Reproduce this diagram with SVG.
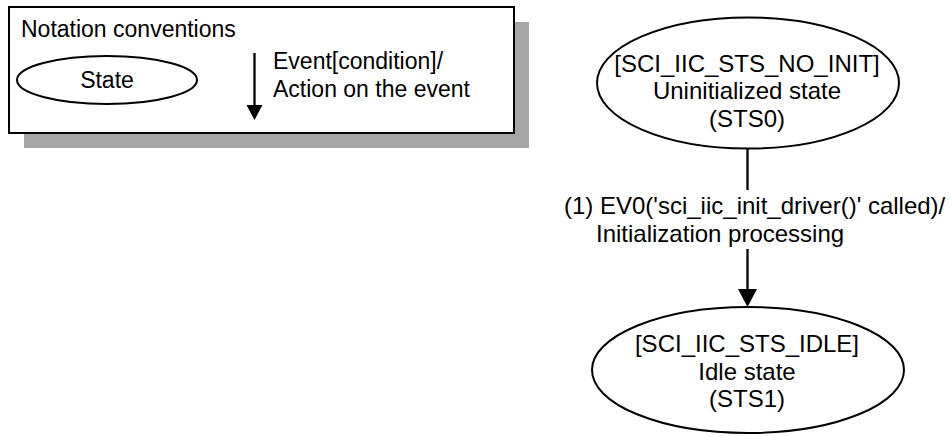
<svg xmlns="http://www.w3.org/2000/svg" width="951" height="436" viewBox="0 0 951 436">
<style>
text{font-family:"Liberation Sans",Arial,sans-serif;fill:#000}
.t{font-size:24px}
.n{font-size:23px}
.c{text-anchor:middle}
.st{fill:#fff;stroke:#000;stroke-width:2}
.ln{fill:none;stroke:#000;stroke-width:2.3}
</style>
<defs>
<marker id="ah" viewBox="0 0 18 19" refX="11" refY="9.5" markerWidth="18" markerHeight="19" markerUnits="userSpaceOnUse" orient="auto">
<path d="M0,0 L18,9.5 L0,19 z" fill="#000"/>
</marker>
<marker id="ahs" viewBox="0 0 15 16" refX="9" refY="8" markerWidth="15" markerHeight="16" markerUnits="userSpaceOnUse" orient="auto">
<path d="M0,0 L15,8 L0,16 z" fill="#000"/>
</marker>
</defs>
<rect width="951" height="436" fill="#fff"/>
<g id="legend">
<rect x="24" y="22" width="505" height="126" fill="#a6a6a6"/>
<rect x="9" y="7" width="505" height="126" fill="#fff" stroke="#000" stroke-width="2"/>
<text class="n" x="21" y="37">Notation conventions</text>
<ellipse class="st" cx="107" cy="80" rx="90" ry="24"/>
<text class="n c" x="107" y="87.5">State</text>
<path class="ln" d="M254.5 53 V114" stroke-width="2" marker-end="url(#ahs)"/>
<text class="n" x="273" y="68.5">Event[condition]/</text>
<text class="n" x="273" y="97">Action on the event</text>
</g>
<g id="sts0">
<ellipse class="st" cx="748" cy="83" rx="151" ry="65.5"/>
<text class="t c" x="747" y="72">[SCI_IIC_STS_NO_INIT]</text>
<text class="t c" x="747" y="99">Uninitialized state</text>
<text class="t c" x="747" y="126.5">(STS0)</text>
</g>
<g id="sts1">
<ellipse class="st" cx="748" cy="370" rx="156" ry="63"/>
<text class="t c" x="747" y="352">[SCI_IIC_STS_IDLE]</text>
<text class="t c" x="747" y="379.5">Idle state</text>
<text class="t c" x="747" y="407">(STS1)</text>
</g>
<g id="connectors">
<path class="ln" d="M747.5 149 V190 M747.5 249 V300" marker-end="url(#ah)"/>
<text class="t" x="564" y="214">(1) EV0('sci_iic_init_driver()' called)/</text>
<text class="t" x="596" y="241.5">Initialization processing</text>
</g>
</svg>
